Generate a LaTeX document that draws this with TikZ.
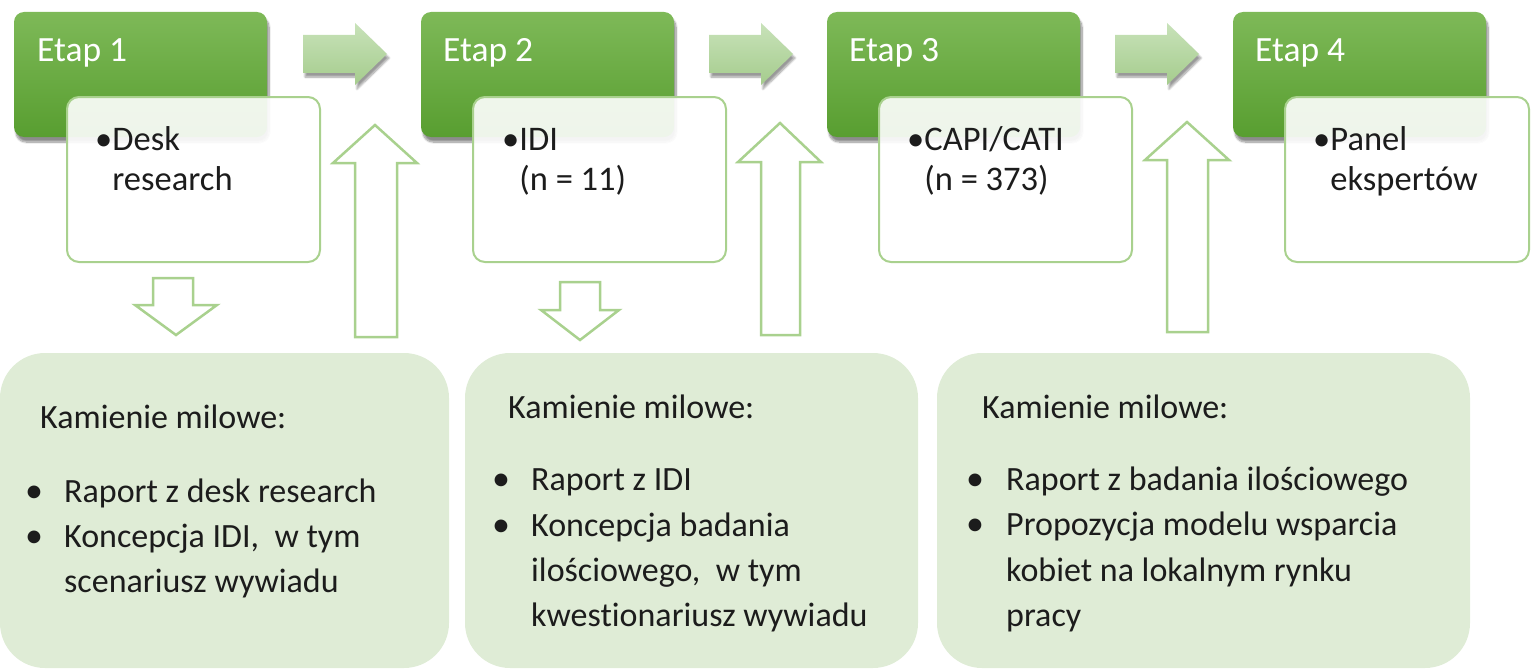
\documentclass[tikz,border=0pt]{standalone}
\usepackage{fontspec}
\setmainfont[Ligatures=NoCommon]{Carlito}
\usetikzlibrary{shadows.blur}
\definecolor{etaptop}{RGB}{126,185,88}
\definecolor{etapbot}{RGB}{88,158,48}
\definecolor{lineg}{RGB}{169,209,142}
\definecolor{milefill}{RGB}{223,236,214}
\definecolor{arrtop}{RGB}{200,226,185}
\definecolor{arrbot}{RGB}{165,204,141}
\definecolor{txt}{RGB}{28,28,28}
\begin{document}
\begin{tikzpicture}[x=1pt,y=-1pt,
  etapbox/.style={rectangle, rounded corners=10pt, inner sep=0pt, draw=none,
    top color=etaptop, bottom color=etapbot, minimum width=253pt, minimum height=125pt,
    blur shadow={shadow xshift=2pt, shadow yshift=-5pt, shadow blur steps=10, shadow opacity=45}},
  whitebox/.style={rectangle, rounded corners=12pt, inner sep=0pt, draw=lineg, line width=2pt,
    fill=white, fill opacity=0.9, minimum height=165pt},
  milebox/.style={rectangle, rounded corners=45pt, inner sep=0pt, draw=none, fill=milefill,
    minimum height=315pt},
  etaptext/.style={inner sep=0pt, anchor=base west, text=white, font=\fontsize{35.5}{40}\selectfont},
  wtext/.style={inner sep=0pt, anchor=base west, text=txt, font=\fontsize{34.5}{40}\selectfont},
  mtext/.style={inner sep=0pt, anchor=base west, text=txt, font=\fontsize{34}{40}\selectfont},
  mbul/.style={inner sep=0pt, anchor=base, text=txt, font=\fontsize{36}{40}\selectfont},
  hollow/.style={draw=lineg, line width=2.5pt, fill=white, line join=miter},
  flowarrow/.style={draw=none, top color=arrtop, bottom color=arrbot,
    blur shadow={shadow xshift=2pt, shadow yshift=-4pt, shadow blur steps=8, shadow opacity=40}},
]
\useasboundingbox (0,0) rectangle (1531,669);

% milestone boxes
\node[milebox, minimum width=449pt] (m1) at (224.5,510.5) {};
\node[milebox, minimum width=453pt] (m2) at (691.5,510.5) {};
\node[milebox, minimum width=533pt] (m3) at (1203.5,510.5) {};

% flow arrows between stages
\path[flowarrow] (303,35) -- (355,35) -- (355,23) -- (387,54) -- (355,85) -- (355,73) -- (303,73) -- cycle;
\path[flowarrow] (709,35) -- (761,35) -- (761,23) -- (793,54) -- (761,85) -- (761,73) -- (709,73) -- cycle;
\path[flowarrow] (1115,35) -- (1167,35) -- (1167,23) -- (1199,54) -- (1167,85) -- (1167,73) -- (1115,73) -- cycle;

% stage boxes
\node[etapbox] (e1) at (140.5,74.5) {};
\node[etapbox] (e2) at (547.5,74.5) {};
\node[etapbox] (e3) at (953.5,74.5) {};
\node[etapbox] (e4) at (1359.5,74.5) {};
\node[etaptext] (e1t) at (37,62) {Etap 1};
\node[etaptext] (e2t) at (443,62) {Etap 2};
\node[etaptext] (e3t) at (849,62) {Etap 3};
\node[etaptext] (e4t) at (1255,62) {Etap 4};

% detail boxes
\node[whitebox, minimum width=253pt] (w1) at (193.5,179.5) {};
\node[whitebox, minimum width=253pt] (w2) at (599.5,179.5) {};
\node[whitebox, minimum width=253pt] (w3) at (1005.5,179.5) {};
\node[whitebox, minimum width=244pt] (w4) at (1407,179.5) {};
\node[wtext] (w1a) at (95,150) {•Desk};
\node[wtext] (w1b) at (95,190) {\phantom{•}research};
\node[wtext] (w2a) at (502,150) {•IDI};
\node[wtext] (w2b) at (502,190) {\phantom{•}(n = 11)};
\node[wtext] (w3a) at (907,150) {•CAPI/CATI};
\node[wtext] (w3b) at (907,190) {\phantom{•}(n = 373)};
\node[wtext] (w4a) at (1313,150) {•Panel};
\node[wtext] (w4b) at (1313,190) {\phantom{•}ekspertów};

% hollow down arrows
\path[hollow] (153,278) -- (193,278) -- (193,305) -- (217,305) -- (176,335) -- (135,305) -- (153,305) -- cycle;
\path[hollow] (560,282) -- (600,282) -- (600,310) -- (619,310) -- (580,340) -- (541,310) -- (560,310) -- cycle;
% hollow up arrows
\path[hollow] (355,337) -- (355,163) -- (333,163) -- (375,125) -- (417,163) -- (397,163) -- (397,337) -- cycle;
\path[hollow] (761,335) -- (761,162) -- (738,162) -- (780,123) -- (821,162) -- (800,162) -- (800,335) -- cycle;
\path[hollow] (1167,332) -- (1167,160) -- (1145,160) -- (1187,122) -- (1229,160) -- (1208,160) -- (1208,332) -- cycle;

% milestone texts
\node[mtext] (m1h) at (40,428) {Kamienie milowe:};
\node[mbul] (m1b1) at (34,502) {•};
\node[mtext] (m1l1) at (64,502) {Raport z desk research};
\node[mbul] (m1b2) at (34,547) {•};
\node[mtext] (m1l2) at (64,547) {Koncepcja IDI,\ \ w tym};
\node[mtext] (m1l3) at (64,592) {scenariusz wywiadu};

\node[mtext] (m2h) at (508,418) {Kamienie milowe:};
\node[mbul] (m2b1) at (501,490) {•};
\node[mtext] (m2l1) at (531,490) {Raport z IDI};
\node[mbul] (m2b2) at (501,536) {•};
\node[mtext] (m2l2) at (531,536) {Koncepcja badania};
\node[mtext] (m2l3) at (531,581) {ilościowego,\ \ w tym};
\node[mtext] (m2l4) at (531,626) {kwestionariusz wywiadu};

\node[mtext] (m3h) at (982,418) {Kamienie milowe:};
\node[mbul] (m3b1) at (975,490) {•};
\node[mtext] (m3l1) at (1006,490) {Raport z badania ilościowego};
\node[mbul] (m3b2) at (975,535) {•};
\node[mtext] (m3l2) at (1006,535) {Propozycja modelu wsparcia};
\node[mtext] (m3l3) at (1006,581) {kobiet na lokalnym rynku};
\node[mtext] (m3l4) at (1006,626) {pracy};
\end{tikzpicture}
\end{document}
